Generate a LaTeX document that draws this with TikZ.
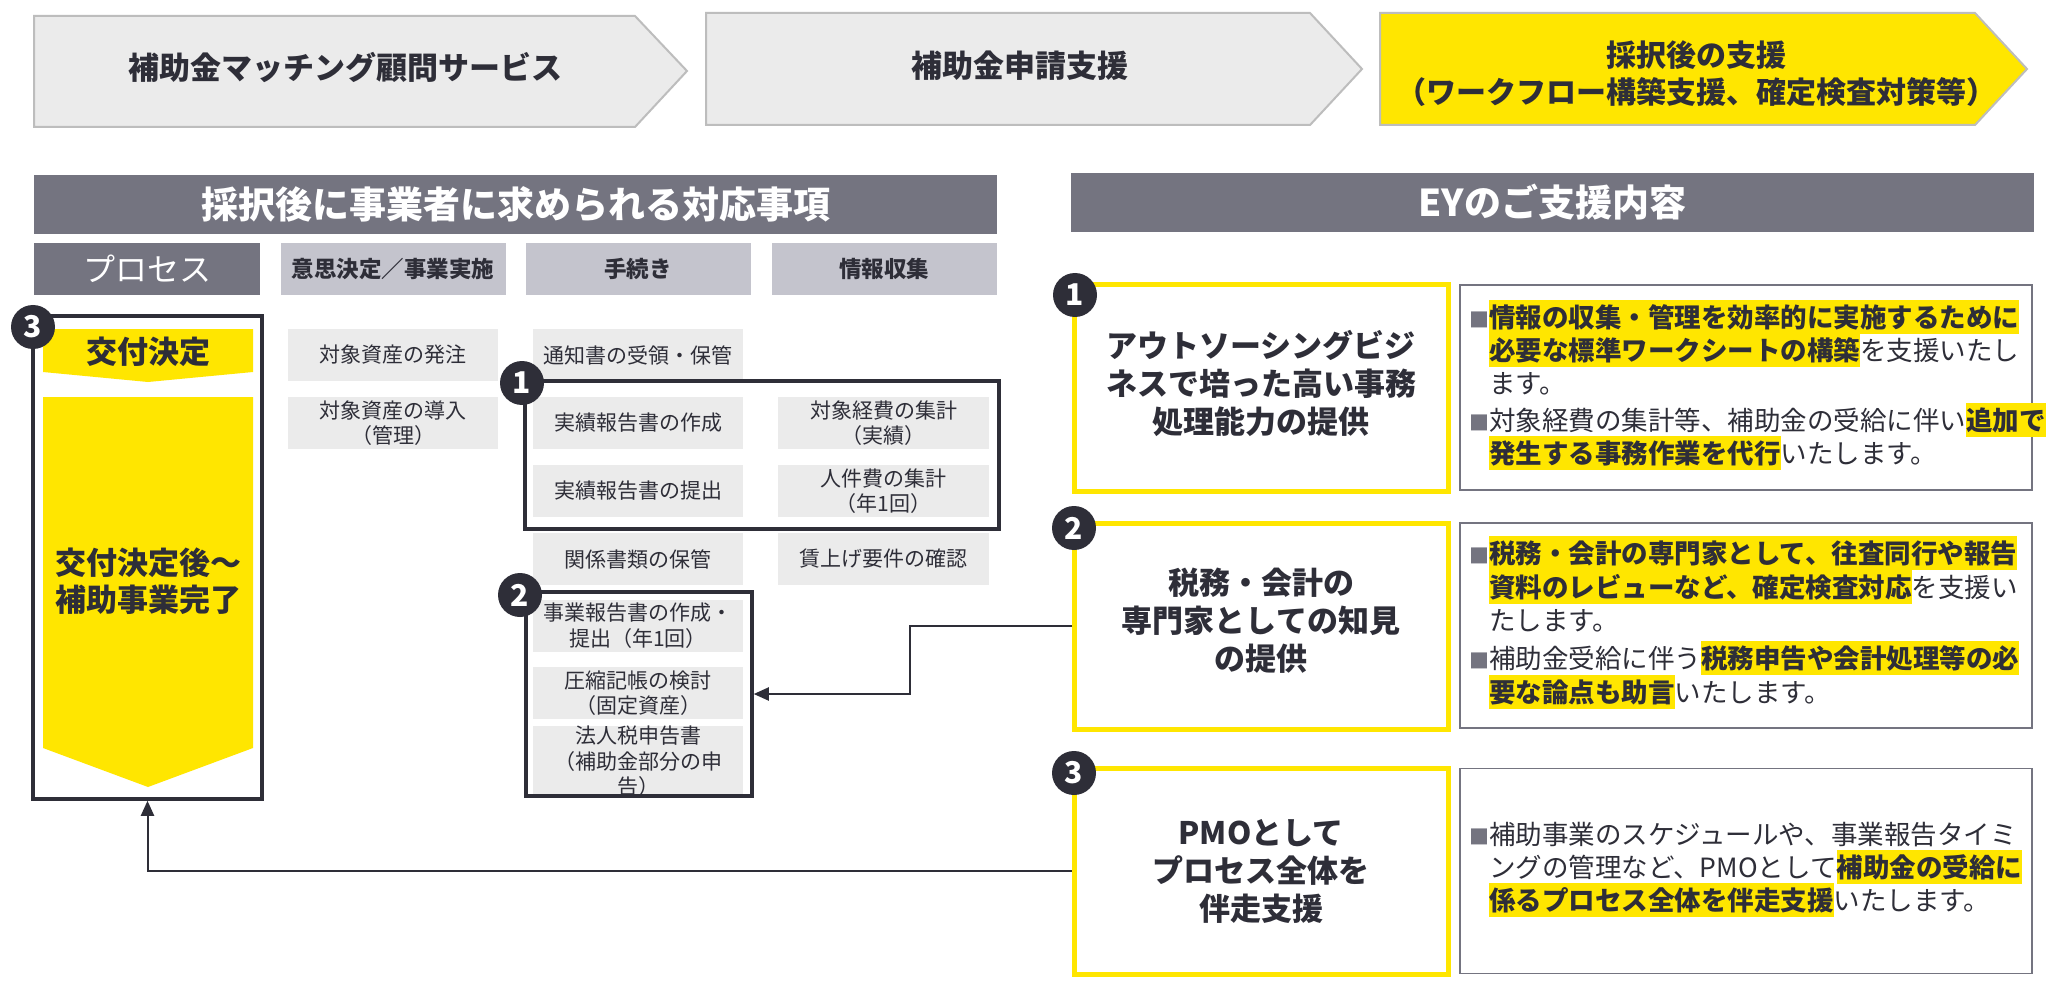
\documentclass[tikz,border=0pt]{standalone}
\usepackage{fontspec}
\setmainfont{Noto Sans CJK JP}
\usetikzlibrary{arrows.meta}
\definecolor{eyyellow}{HTML}{FFE600}
\definecolor{eydark}{HTML}{2E2E38}
\definecolor{eygray}{HTML}{747480}
\definecolor{chevgray}{HTML}{EBEBEB}
\definecolor{chevline}{HTML}{BDBDBD}
\definecolor{boxgray}{HTML}{EBEBEB}
\definecolor{colgray}{HTML}{C4C4CD}
\newcommand\hlt[1]{{\setlength{\fboxsep}{0pt}\colorbox{eyyellow}{\rule[-7pt]{0pt}{34pt}\bfseries #1}}}
\newcommand\bul{{\color{eygray}\fontsize{20}{20}\selectfont ■}}
\tikzset{
  chev/.style={fill=chevgray, draw=chevline, line width=2},
  chevy/.style={fill=eyyellow, draw=chevline, line width=2},
  chevtxt/.style={font=\bfseries\fontsize{31}{37}\selectfont, text=eydark, align=center, inner sep=0},
  hbar/.style={fill=eygray, text=white, font=\bfseries\fontsize{37}{40}\selectfont, minimum width=963, minimum height=59, inner sep=0},
  colhd/.style={fill=colgray, text=eydark, font=\bfseries\fontsize{22.5}{26}\selectfont, minimum width=225, minimum height=52, inner sep=0},
  prochd/.style={fill=eygray, text=white, font=\fontsize{32}{34}\selectfont, minimum width=226, minimum height=52, inner sep=0},
  gbox/.style={fill=boxgray, text=eydark, font=\fontsize{21}{25.5}\selectfont, align=center, minimum height=52, inner sep=0},
  frame/.style={draw=eydark, line width=3.5, inner sep=0},
  numc/.style={circle, fill=eydark, text=white, font=\bfseries\fontsize{30}{30}\selectfont, minimum size=44, inner sep=0},
  ptxt/.style={text=eydark, font=\bfseries\fontsize{31}{37}\selectfont, align=center, inner sep=0},
  eybox/.style={draw=eyyellow, line width=5, fill=white, minimum width=374, minimum height=206, inner sep=0},
  eytxt/.style={text=eydark, font=\bfseries\fontsize{31}{38}\selectfont, align=center, inner sep=0},
  tbox/.style={draw=eygray, line width=1.8, fill=white, minimum width=572, minimum height=205, inner sep=0},
  tline/.style={anchor=base west, inner sep=0, font=\fontsize{26.5}{34}\selectfont, text=eydark},
  conn/.style={draw=eydark, line width=2, -{Triangle[length=15pt,width=13pt]}}
}
\begin{document}
\begin{tikzpicture}[x=1pt,y=-1pt]
\useasboundingbox (0,0) rectangle (2048,984);
\fill[white] (0,0) rectangle (2048,984);

% top chevrons
\draw[chev] (34,16) -- (635,16) -- (687,71) -- (635,127) -- (34,127) -- cycle;
\node[chevtxt] (c1) at (345,68) {補助金マッチング顧問サービス};
\draw[chev] (706,13) -- (1310,13) -- (1362,69) -- (1310,125) -- (706,125) -- cycle;
\node[chevtxt] (c2) at (1020,66) {補助金申請支援};
\draw[chevy] (1380,13) -- (1975,13) -- (2027,69) -- (1975,125) -- (1380,125) -- cycle;
\node[chevtxt, font=\bfseries\fontsize{30}{37}\selectfont] (c3) at (1696,73.5) {採択後の支援\\（ワークフロー構築支援、確定検査対策等）};

% header bars
\node[hbar] (hl) at (515.5,204.5) {採択後に事業者に求められる対応事項};
\node[hbar] (hr) at (1552.5,202.5) {EYのご支援内容};

% column headers
\node[prochd] (ch0) at (147,269) {プロセス};
\node[colhd] (ch1) at (393,269) {意思決定／事業実施};
\node[colhd] (ch2) at (638,269) {手続き};
\node[colhd] (ch3) at (884,269) {情報収集};

% process column
\node[frame, minimum width=229, minimum height=483] (proc) at (147.5,557.5) {};
\fill[eyyellow] (43,329) -- (253,329) -- (253,372) -- (148,382) -- (43,372) -- cycle;
\fill[eyyellow] (43,397) -- (253,397) -- (253,748) -- (148,787) -- (43,748) -- cycle;
\node[ptxt] (kofu) at (148,352) {交付決定};
\node[ptxt] (kofu2) at (148,581) {交付決定後～\\補助事業完了};

% column 2
\node[gbox, minimum width=210] (b21) at (393,355) {対象資産の発注};
\node[gbox, minimum width=210] (b22) at (393,423) {対象資産の導入\\（管理）};

% column 3
\node[gbox, minimum width=210] (b31) at (638,355) {通知書の受領・保管};
\node[gbox, minimum width=210] (b32) at (638,423) {実績報告書の作成};
\node[gbox, minimum width=210] (b33) at (638,491) {実績報告書の提出};
\node[gbox, minimum width=210] (b34) at (638,559) {関係書類の保管};
\node[gbox, minimum width=210] (b35) at (638,625.5) {事業報告書の作成・\\提出（年1回）};
\node[gbox, minimum width=210] (b36) at (638,693) {圧縮記帳の検討\\（固定資産）};
\node[gbox, minimum width=210, minimum height=53] (b37) at (638,761.5) {法人税申告書\\（補助金部分の申\\告）};

% column 4
\node[gbox, minimum width=211] (b42) at (883.5,423) {対象経費の集計\\（実績）};
\node[gbox, minimum width=211] (b43) at (883.5,491) {人件費の集計\\（年1回）};
\node[gbox, minimum width=211] (b44) at (883.5,559) {賃上げ要件の確認};

% frames
\node[frame, minimum width=474, minimum height=148] (fr1) at (762,455) {};
\node[frame, minimum width=226, minimum height=204] (fr2) at (639,694) {};

% EY boxes
\node[eybox] (eyb1) at (1261,388) {};
\node[eytxt] (e1) at (1261,383) {アウトソーシングビジ\\ネスで培った高い事務\\処理能力の提供};
\node[eybox] (eyb2) at (1261,626) {};
\node[eytxt] (e2) at (1261,621) {税務・会計の\\専門家としての知見\\の提供};
\node[eybox] (eyb3) at (1261,871) {};
\node[eytxt] (e3) at (1261,871) {PMOとして\\プロセス全体を\\伴走支援};

\node[tbox] (tb1) at (1746,387.5) {};
\node[tbox] (tb2) at (1746,625.5) {};
\node[tbox] (tb3) at (1746,871) {};

\node[tline] (t1a) at (1469,327) {\bul\hlt{情報の収集・管理を効率的に実施するために}};
\node[tline] (t1b) at (1489,360) {\hlt{必要な標準ワークシートの構築}を支援いたし};
\node[tline] (t1c) at (1489,393) {ます。};
\node[tline] (t1d) at (1469,430) {\bul 対象経費の集計等、補助金の受給に伴い\hlt{追加で}};
\node[tline] (t1e) at (1489,463) {\hlt{発生する事務作業を代行}いたします。};

\node[tline] (t2a) at (1469,563) {\bul\hlt{税務・会計の専門家として、往査同行や報告}};
\node[tline] (t2b) at (1489,597) {\hlt{資料のレビューなど、確定検査対応}を支援い};
\node[tline] (t2c) at (1489,630) {たします。};
\node[tline] (t2d) at (1469,668) {\bul 補助金受給に伴う\hlt{税務申告や会計処理等の必}};
\node[tline] (t2e) at (1489,702) {\hlt{要な論点も助言}いたします。};

\node[tline] (t3a) at (1469,844) {\bul 補助事業のスケジュールや、事業報告タイミ};
\node[tline] (t3b) at (1489,877) {ングの管理など、PMOとして\hlt{補助金の受給に}};
\node[tline] (t3c) at (1489,910) {\hlt{係るプロセス全体を伴走支援}いたします。};

% connectors
\coordinate (k2) at (910,626);
\draw[conn] (eyb2.west) -- (k2) |- (fr2.east);
\draw[conn] (eyb3.west) -| (proc.south);

% number circles
\node[numc] (n3p) at (33,327) {3};
\node[numc] (n1p) at (522,383) {1};
\node[numc] (n2p) at (520,595) {2};
\node[numc] (n1e) at (1075,295) {1};
\node[numc] (n2e) at (1074,528) {2};
\node[numc] (n3e) at (1074,773) {3};
\end{tikzpicture}
\end{document}
